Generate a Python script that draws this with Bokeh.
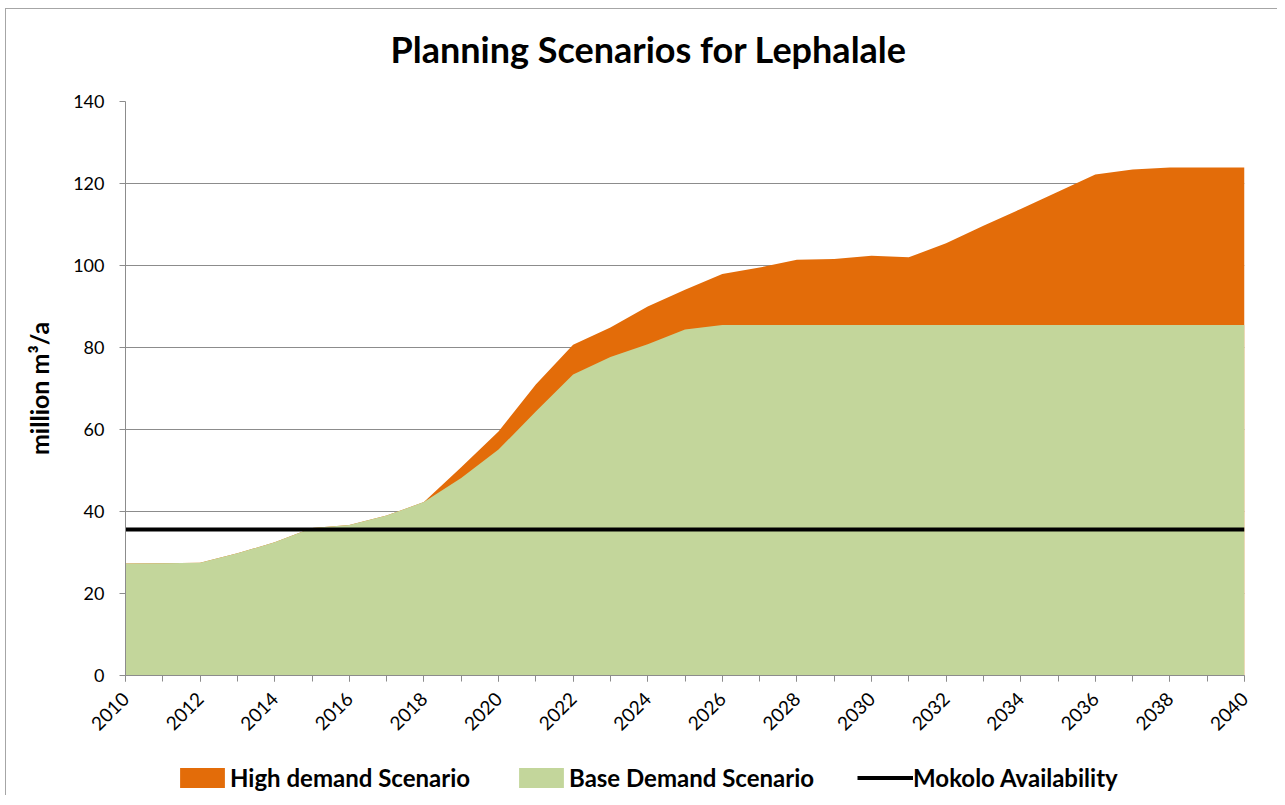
import math
from bokeh.plotting import figure
from bokeh.layouts import column
from bokeh.models import (Range1d, SingleIntervalTicker, Legend, LegendItem, Label)
from bokeh.embed import file_html
from bokeh.resources import INLINE

years = list(range(2010, 2041))
base_demand = [27.3, 27.4, 27.5, 29.8, 32.5, 36.0, 36.7, 39.0, 42.3, 48.2,
               55.1, 64.4, 73.4, 77.7, 80.8, 84.4, 85.5, 85.5, 85.5, 85.5,
               85.5, 85.5, 85.5, 85.5, 85.5, 85.5, 85.5, 85.5, 85.5, 85.5, 85.5]
high_demand = [27.3, 27.4, 27.5, 29.8, 32.5, 36.0, 36.7, 39.0, 42.3, 50.8,
               59.5, 71.0, 80.7, 84.9, 90.0, 94.1, 97.9, 99.5, 101.4, 101.6,
               102.4, 102.0, 105.4, 109.7, 113.8, 118.0, 122.2, 123.4, 123.9, 123.9, 123.9]
mokolo = [35.6] * len(years)
title_text = "Planning Scenarios for Lephalale"
series_names = ["High demand Scenario", "Base Demand Scenario", "Mokolo Availability"]

ORANGE = "#E36C09"
GREEN = "#C3D69B"
FONT = "Lato"
W = 1271


def bare(h):
    f = figure(frame_width=W, frame_height=h, min_border=0,
               output_backend="svg", toolbar_location=None,
               x_range=Range1d(0, 1), y_range=Range1d(0, 1))
    f.axis.visible = False
    f.grid.visible = False
    f.outline_line_color = None
    return f


# ---- title strip (its frame is aligned with the chart frame by the column layout)
pt = bare(82)
pt.add_layout(Label(x=0.2085, y=0.52, text=title_text, text_align="left",
                    text_baseline="middle", text_font=FONT, text_font_size="36px",
                    text_font_style="bold", text_color="#000000"))

# ---- main chart
p = figure(frame_width=1119, frame_height=574,
           min_border_left=119, min_border_right=W - 119 - 1119,
           min_border_top=10, min_border_bottom=70,
           output_backend="svg", toolbar_location=None,
           x_range=Range1d(2010, 2040), y_range=Range1d(0, 140))

p.varea(x=years, y1=0, y2=high_demand, fill_color=ORANGE, fill_alpha=1.0)
p.varea(x=years, y1=0, y2=base_demand, fill_color=GREEN, fill_alpha=1.0)
p.line(x=years, y=mokolo, line_color="#000000", line_width=4)

p.outline_line_color = None
p.xgrid.grid_line_color = None
p.ygrid.grid_line_color = "#8c8c8c"
p.ygrid.grid_line_width = 1

xa = p.xaxis[0]
xa.ticker = SingleIntervalTicker(interval=2, num_minor_ticks=2)
xa.major_label_orientation = math.pi / 4
xa.axis_line_color = "#8c8c8c"
xa.major_tick_line_color = "#8c8c8c"
xa.minor_tick_line_color = "#8c8c8c"
xa.major_tick_out = 6
xa.major_tick_in = 0
xa.minor_tick_out = 6
xa.minor_tick_in = 0
xa.major_label_text_font = FONT
xa.major_label_text_font_size = "19px"
xa.major_label_text_color = "#000000"
xa.major_label_standoff = 14

ya = p.yaxis[0]
ya.ticker = SingleIntervalTicker(interval=20, num_minor_ticks=0)
ya.axis_line_color = "#8c8c8c"
ya.major_tick_line_color = "#8c8c8c"
ya.major_tick_out = 6
ya.major_tick_in = 0
ya.minor_tick_line_color = None
ya.major_label_text_font = FONT
ya.major_label_text_font_size = "18px"
ya.major_label_text_color = "#000000"
ya.major_label_standoff = 15
ya.axis_label = "million m³/a"
ya.axis_label_text_font = FONT
ya.axis_label_text_font_size = "25px"
ya.axis_label_text_font_style = "bold"
ya.axis_label_text_color = "#000000"
ya.axis_label_standoff = 16

# ---- legend strip (same series, drawn outside its visible range; only the legend shows)
pl = bare(50)
lh = pl.varea(x=years, y1=0, y2=high_demand, fill_color=ORANGE, fill_alpha=1.0)
lb = pl.varea(x=years, y1=0, y2=base_demand, fill_color=GREEN, fill_alpha=1.0)
lm = pl.line(x=years, y=mokolo, line_color="#000000", line_width=4)
legend = Legend(items=[
    LegendItem(label=series_names[0], renderers=[lh]),
    LegendItem(label=series_names[1], renderers=[lb]),
    LegendItem(label=series_names[2], renderers=[lm]),
], orientation="horizontal", location=(168, 3),
    glyph_width=56, glyph_height=25, label_standoff=0, spacing=43,
    padding=0, margin=0, border_line_color=None, background_fill_alpha=0,
    label_text_font=FONT, label_text_font_size="24px", label_text_font_style="bold",
    label_text_color="#000000", label_height=22)
pl.add_layout(legend, "center")

layout = column(pt, p, pl, spacing=0)
layout.styles = {"margin-left": "5px", "margin-top": "8px",
                 "border-left": "1px solid #a6a6a6", "border-top": "1px solid #a6a6a6"}

open("out.html", "w").write(file_html(layout, INLINE))
